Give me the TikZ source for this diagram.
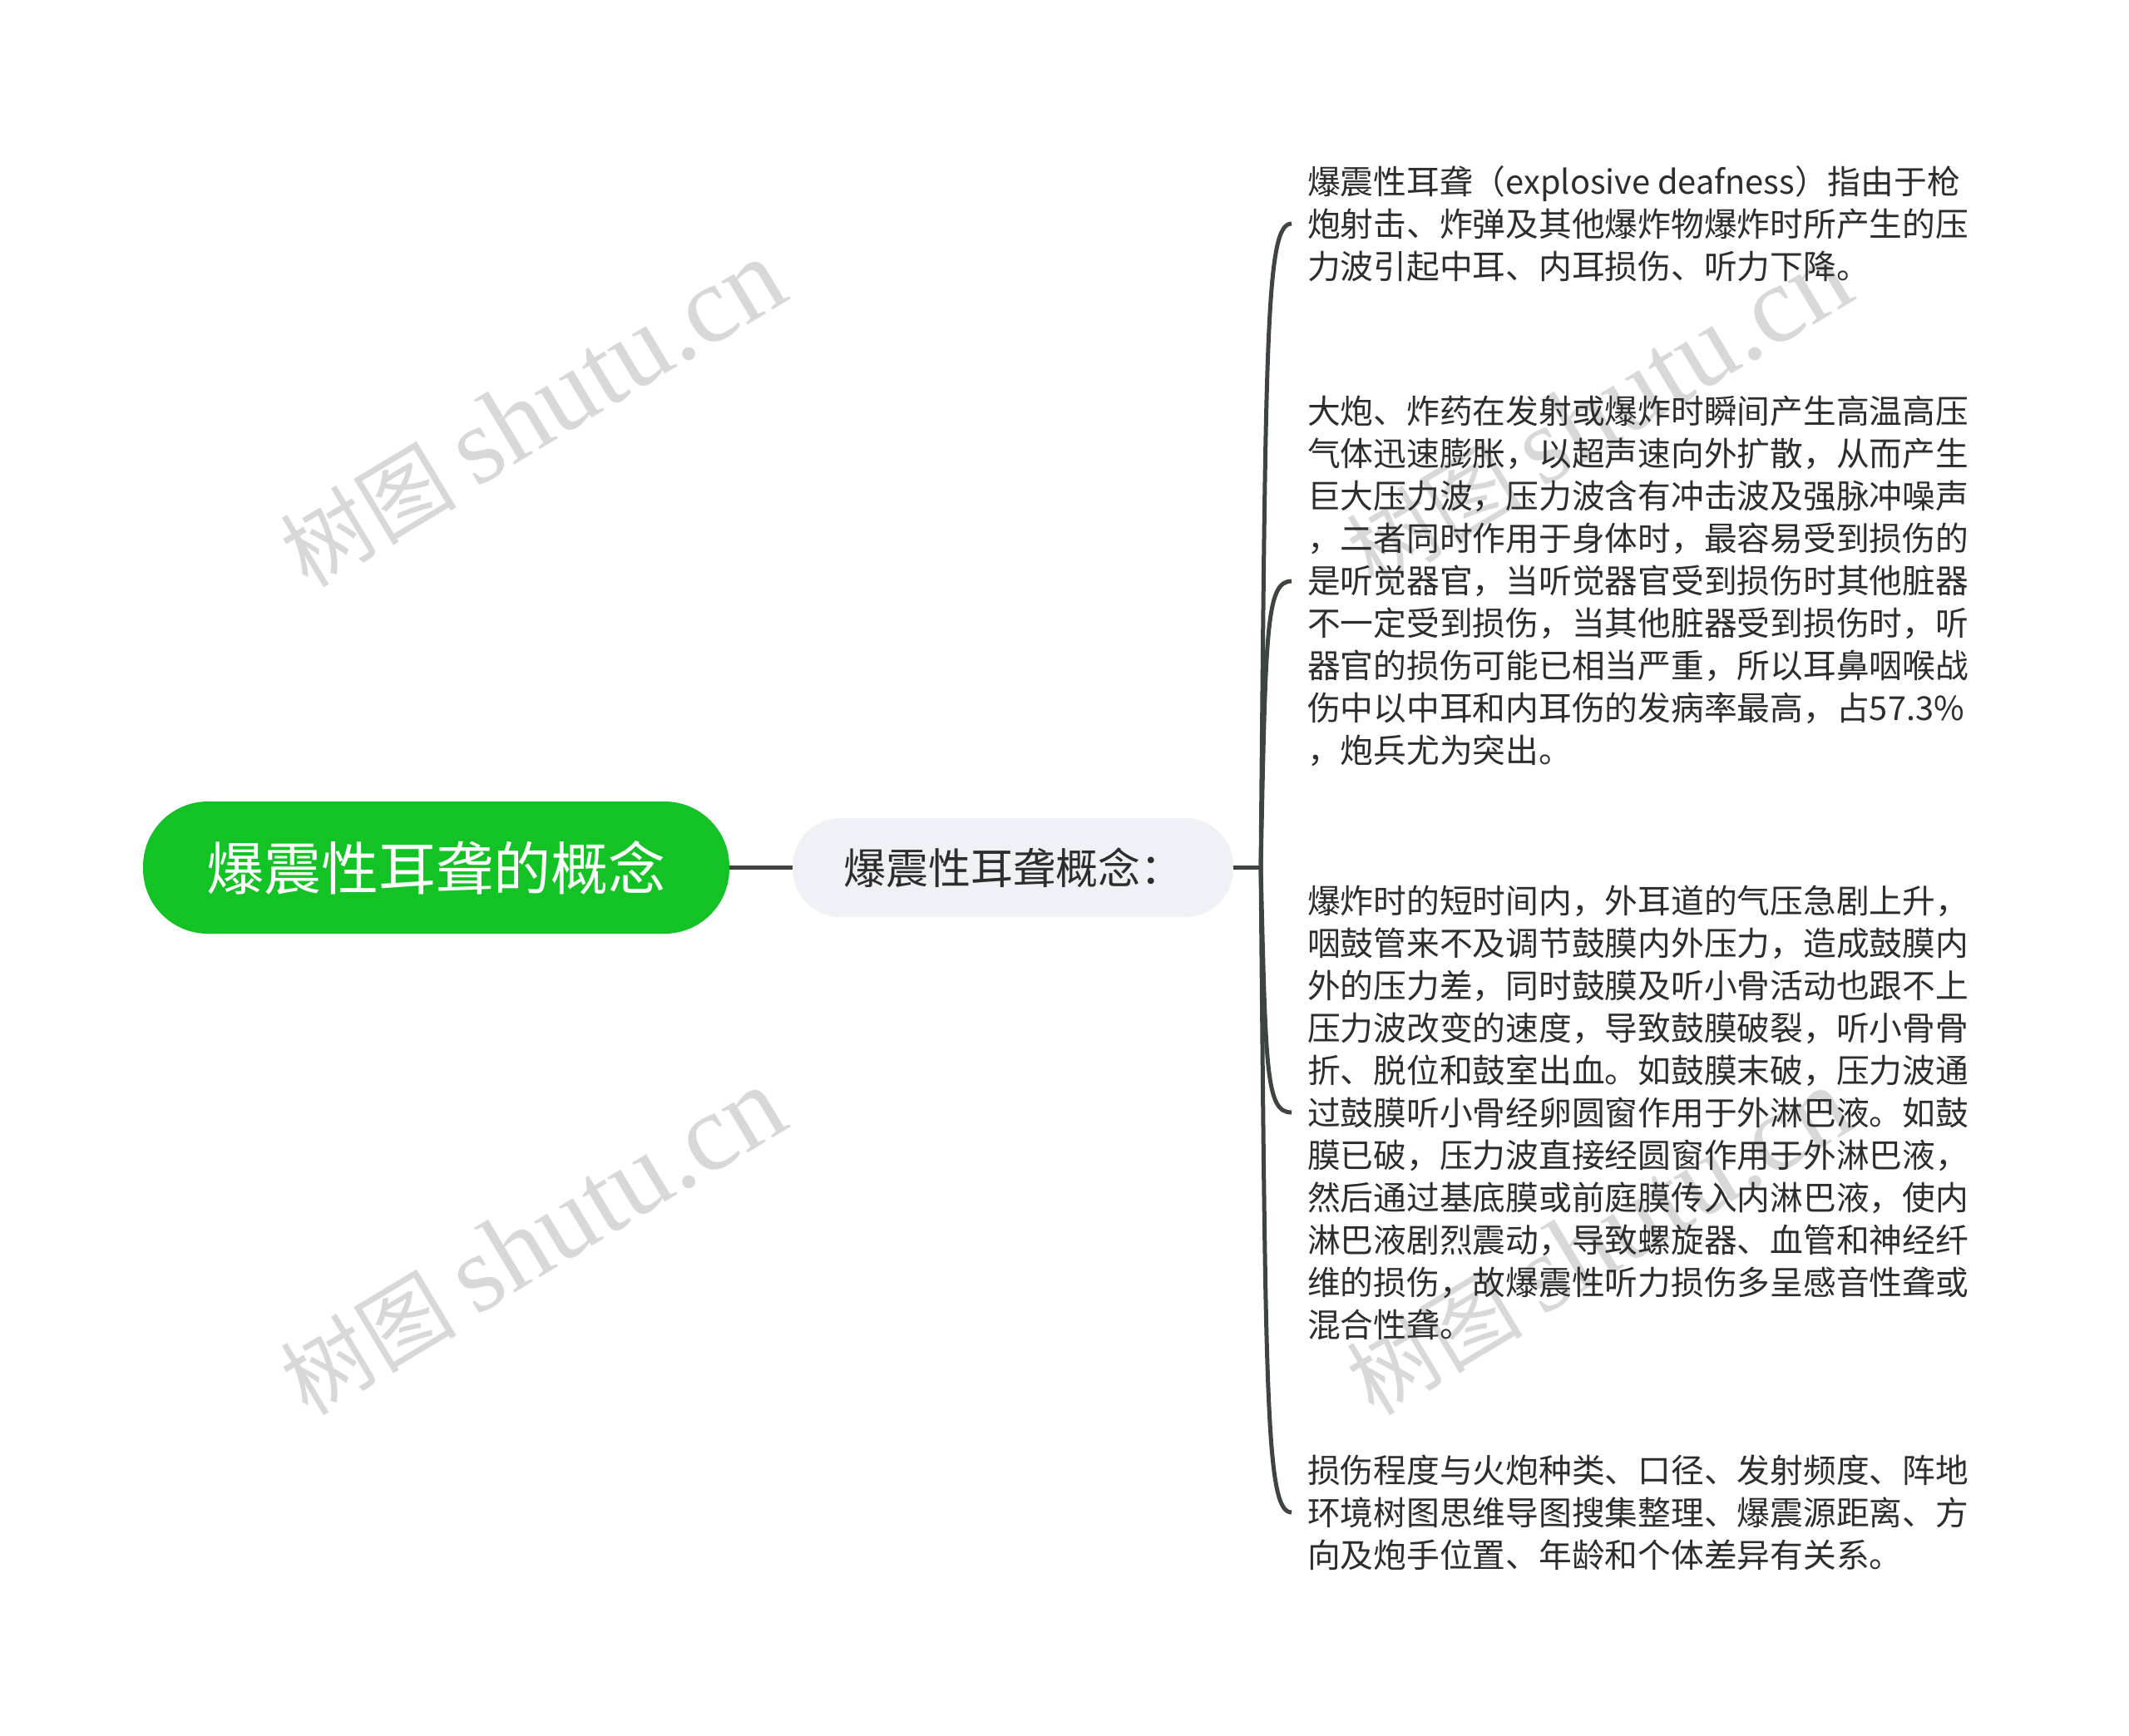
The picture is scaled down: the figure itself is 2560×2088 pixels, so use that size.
\documentclass[tikz,border=0pt]{standalone}
\usepackage{fontspec}
\setmainfont{Noto Sans CJK SC}
\newfontfamily\markserif{Liberation Serif}

\definecolor{rootgreen}{RGB}{19,194,36}
\definecolor{subgray}{RGB}{238,241,245}
\definecolor{linegray}{RGB}{62,68,62}
\definecolor{textgray}{RGB}{45,45,45}
\definecolor{markgray}{RGB}{216,216,216}

\tikzset{
  rootbox/.style={fill=rootgreen, rounded corners=78pt, minimum width=705pt,
    minimum height=159pt, inner sep=0pt, text=white,
    font=\fontsize{69}{80}\selectfont},
  subbox/.style={fill=subgray, rounded corners=58pt, minimum width=530pt,
    minimum height=119pt, inner sep=0pt, text=textgray,
    font=\fontsize{51}{60}\selectfont},
  leafbox/.style={anchor=west, align=left, inner xsep=19pt, inner ysep=0pt,
    text=textgray, font=\fontsize{39.75}{51}\selectfont},
  branch/.style={draw=linegray, line width=5pt},
  watermark/.style={text=markgray, rotate=31, transform shape,
    font=\fontsize{106}{110}\selectfont}
}

\begin{document}
\begin{tikzpicture}[x=1pt, y=-1pt]
    \useasboundingbox (0,0) rectangle (2560,2088);

    % watermarks
    \foreach \x/\y [count=\i] in {640/498, 1922/498, 640/1494, 1922/1494} {
      \node[watermark] (mark\i) at (\x,\y) {树图 {\markserif\fontsize{132}{132}\selectfont shutu.cn}};
    }

    \node[rootbox] (root) at (524.5,1043.5) {爆震性耳聋的概念};
    \node[subbox] (concept) at (1218,1043.5) {爆震性耳聋概念：\hspace{14pt}};
    \coordinate (fork) at (1516,1043.5);

    \node[leafbox] (leafA) at (1553,269) {爆震性耳聋（explosive deafness）指由于枪\\
炮射击、炸弹及其他爆炸物爆炸时所产生的压\\
力波引起中耳、内耳损伤、听力下降。};
    \node[leafbox] (leafB) at (1553,699) {大炮、炸药在发射或爆炸时瞬间产生高温高压\\
气体迅速膨胀，以超声速向外扩散，从而产生\\
巨大压力波，压力波含有冲击波及强脉冲噪声\\
，二者同时作用于身体时，最容易受到损伤的\\
是听觉器官，当听觉器官受到损伤时其他脏器\\
不一定受到损伤，当其他脏器受到损伤时，听\\
器官的损伤可能已相当严重，所以耳鼻咽喉战\\
伤中以中耳和内耳伤的发病率最高，占57.3\%\\
，炮兵尤为突出。};
    \node[leafbox] (leafC) at (1553,1338) {爆炸时的短时间内，外耳道的气压急剧上升，\\
咽鼓管来不及调节鼓膜内外压力，造成鼓膜内\\
外的压力差，同时鼓膜及听小骨活动也跟不上\\
压力波改变的速度，导致鼓膜破裂，听小骨骨\\
折、脱位和鼓室出血。如鼓膜末破，压力波通\\
过鼓膜听小骨经卵圆窗作用于外淋巴液。如鼓\\
膜已破，压力波直接经圆窗作用于外淋巴液，\\
然后通过基底膜或前庭膜传入内淋巴液，使内\\
淋巴液剧烈震动，导致螺旋器、血管和神经纤\\
维的损伤，故爆震性听力损伤多呈感音性聋或\\
混合性聋。};
    \node[leafbox] (leafD) at (1553,1819) {损伤程度与火炮种类、口径、发射频度、阵地\\
环境树图思维导图搜集整理、爆震源距离、方\\
向及炮手位置、年龄和个体差异有关系。};

    \draw[branch] (root.east) -- (concept.west);
    \draw[branch] (concept.east) -- (fork);
    \foreach \leaf/\yc in {leafA/400, leafB/758, leafC/1288, leafD/1687} {
      \draw[branch] (fork) .. controls (1522,\yc) and ([xshift=-31pt]\leaf.west) .. (\leaf.west);
    }
\end{tikzpicture}
\end{document}
